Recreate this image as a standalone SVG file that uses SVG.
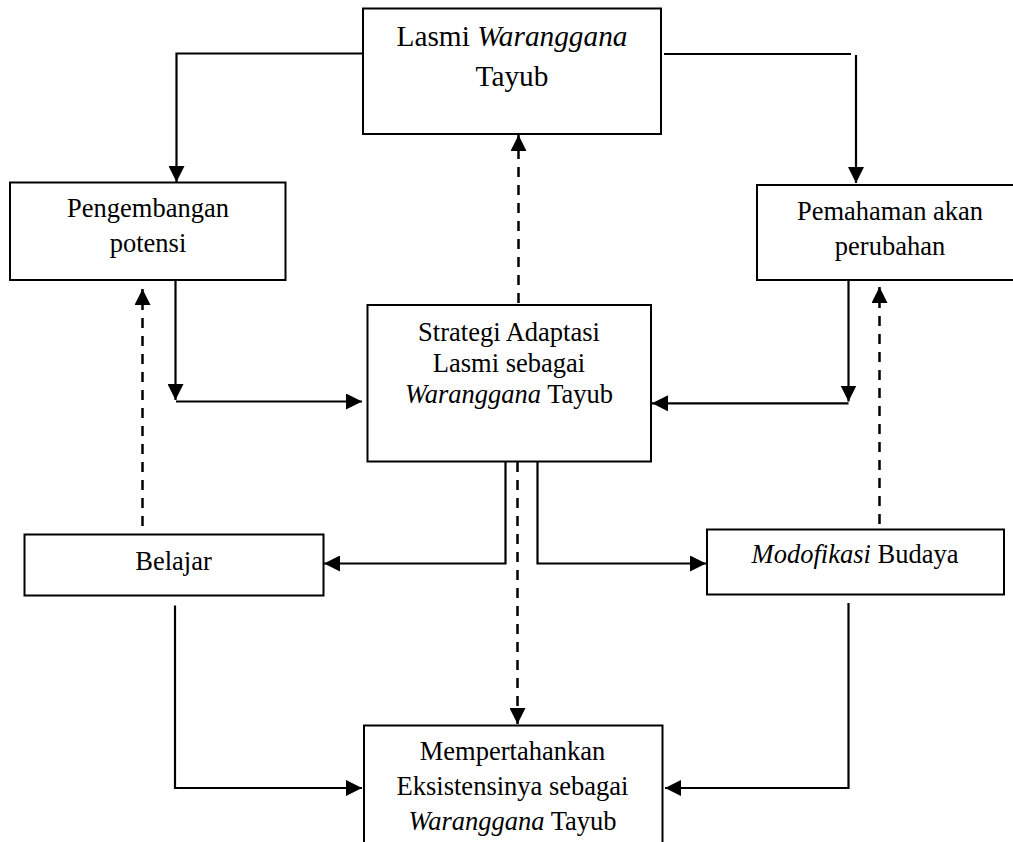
<svg xmlns="http://www.w3.org/2000/svg" width="1013" height="842" viewBox="0 0 1013 842">
<style>
.box{fill:#fff;stroke:#000;stroke-width:2}
.t{font-family:"Liberation Serif","Times New Roman",serif;font-size:26.5px;fill:#000;text-anchor:middle}
.tb{font-size:29.3px}
.i{font-style:italic}
.c{fill:none;stroke:#000;stroke-width:2.2}
.d{stroke-dasharray:10 8;stroke-width:2.5}
</style>
<defs>
<marker id="ah" markerUnits="userSpaceOnUse" markerWidth="16" markerHeight="16" viewBox="0 0 16 16" refX="16" refY="8" orient="auto">
<path d="M0,0 L16,8 L0,16 z" fill="#000"/>
</marker>
</defs>
<rect width="1013" height="842" fill="#fff"/>
<g id="connectors">
<path class="c" d="M362,53.5 H176.5 V182" marker-end="url(#ah)"/>
<path class="c" d="M664,54 H851"/>
<path class="c" d="M856,55 V183" marker-end="url(#ah)"/>
<path class="c" d="M175.5,280 V400" marker-end="url(#ah)"/>
<path class="c" d="M176,401.5 H362" marker-end="url(#ah)"/>
<path class="c" d="M848.5,280 V401.5" marker-end="url(#ah)"/>
<path class="c" d="M848.5,403.3 H652" marker-end="url(#ah)"/>
<path class="c d" d="M518.5,303 V135" marker-end="url(#ah)"/>
<path class="c d" d="M142.5,526 V289" marker-end="url(#ah)"/>
<path class="c d" d="M879.5,524 V287" marker-end="url(#ah)"/>
<path class="c" d="M505.5,462 V563.5 H324" marker-end="url(#ah)"/>
<path class="c" d="M537.5,460 V563.5 H706" marker-end="url(#ah)"/>
<path class="c d" d="M517.5,462 V724" marker-end="url(#ah)"/>
<path class="c" d="M175,605.5 V788 H362" marker-end="url(#ah)"/>
<path class="c" d="M848.5,603 V788 H665" marker-end="url(#ah)"/>
</g>
<g id="lasmi">
<rect class="box" x="363" y="8.5" width="298" height="125.5"/>
<text class="t tb" x="512" y="45.5">Lasmi <tspan class="i">Waranggana</tspan></text>
<text class="t tb" x="512" y="85.5">Tayub</text>
</g>
<g id="pengembangan">
<rect class="box" x="10" y="182.5" width="275.5" height="97.5"/>
<text class="t" x="148" y="216.7">Pengembangan</text>
<text class="t" x="148" y="251.7">potensi</text>
</g>
<g id="pemahaman">
<rect class="box" x="757" y="185" width="270" height="95"/>
<text class="t" x="890" y="220">Pemahaman akan</text>
<text class="t" x="890" y="255">perubahan</text>
</g>
<g id="strategi">
<rect class="box" x="367.5" y="305" width="283.5" height="156.5"/>
<text class="t" x="509" y="340.7">Strategi Adaptasi</text>
<text class="t" x="509" y="371.5">Lasmi sebagai</text>
<text class="t" x="509" y="402.7"><tspan class="i">Waranggana</tspan> Tayub</text>
</g>
<g id="belajar">
<rect class="box" x="24.5" y="534.5" width="299" height="61"/>
<text class="t" x="173.5" y="570">Belajar</text>
</g>
<g id="modofikasi">
<rect class="box" x="707" y="529.5" width="297" height="65"/>
<text class="t" x="855" y="563"><tspan class="i">Modofikasi</tspan> Budaya</text>
</g>
<g id="mempertahankan">
<rect class="box" x="364" y="725.5" width="298.5" height="130"/>
<text class="t" x="512.5" y="760">Mempertahankan</text>
<text class="t" x="512.5" y="795">Eksistensinya sebagai</text>
<text class="t" x="512.5" y="830"><tspan class="i">Waranggana</tspan> Tayub</text>
</g>
</svg>
